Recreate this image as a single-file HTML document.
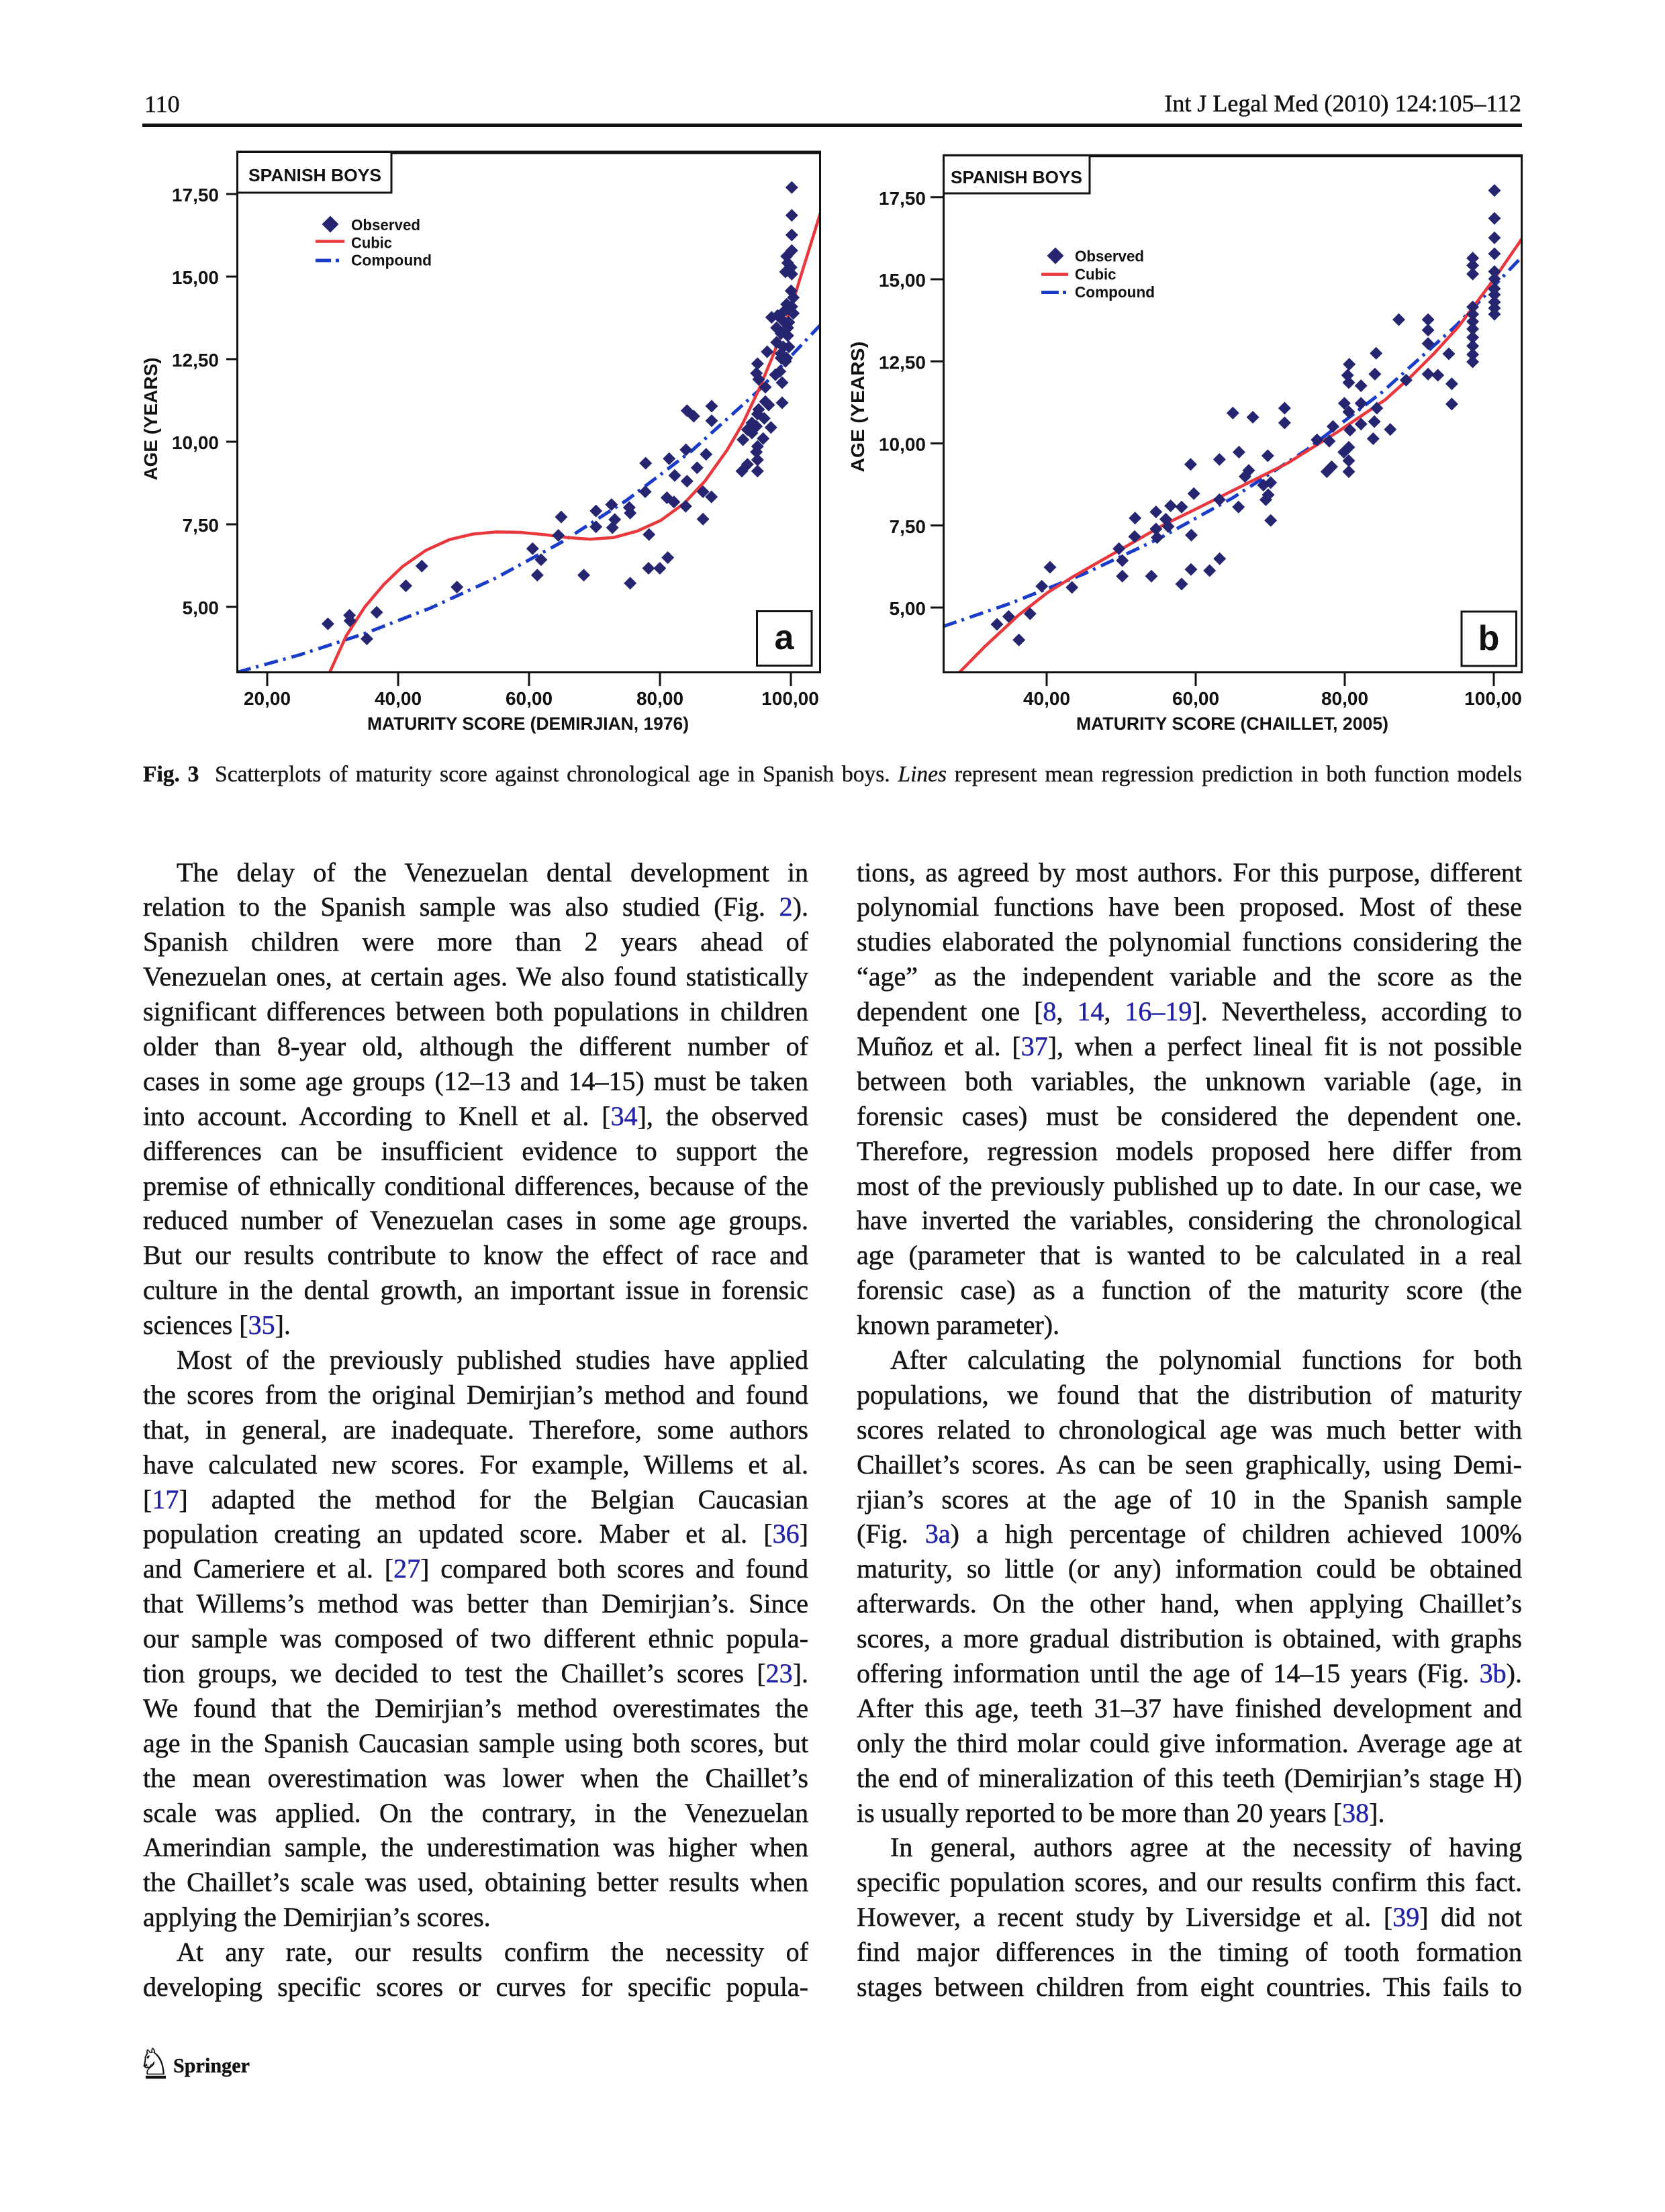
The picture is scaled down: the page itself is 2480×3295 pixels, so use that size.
<!DOCTYPE html>
<html><head><meta charset="utf-8">
<style>
html,body{margin:0;padding:0;background:#fff}
body{width:2480px;height:3295px;position:relative;overflow:hidden}
svg.pg{position:absolute;left:0;top:0}
.col{position:absolute;top:1273.5px;width:991px;font-family:"Liberation Serif","Times New Roman",serif;font-size:40px;line-height:51.9px;color:#151515;-webkit-text-stroke:0.5px #151515}
.col div{height:51.9px;overflow:hidden;text-align:justify;text-align-last:justify}
.col div.i{text-indent:50px}
.col div.l{text-align:left;text-align-last:left}
.c{color:#2424a6;-webkit-text-stroke:0.5px #2424a6}
.cap{position:absolute;left:213px;top:1133.7px;width:2054px;height:40px;overflow:hidden;font-family:"Liberation Serif","Times New Roman",serif;font-size:33.5px;line-height:40px;color:#151515;text-align:justify;text-align-last:justify;-webkit-text-stroke:0.4px #151515}
</style></head>
<body>
<svg class="pg" width="2480" height="3295" viewBox="0 0 2480 3295">
<defs>
<path id="d" d="M0,-9.5L9.5,0L0,9.5L-9.5,0Z" fill="#25266f"/>
<path id="dl" d="M0,-12.5L12.5,0L0,12.5L-12.5,0Z" fill="#25266f"/>
<clipPath id="ca"><rect x="354" y="228" width="867" height="773"/></clipPath>
<clipPath id="cb"><rect x="1406" y="233" width="860" height="768"/></clipPath>
</defs>

<!-- header -->
<text x="215" y="167" font-family="Liberation Serif, serif" font-size="36" fill="#111" stroke="#111" stroke-width="0.5">110</text>
<text x="2266" y="166" text-anchor="end" font-family="Liberation Serif, serif" font-size="36" fill="#111" stroke="#111" stroke-width="0.5">Int J Legal Med (2010) 124:105–112</text>
<rect x="212" y="184" width="2055" height="5" fill="#111"/>

<!-- ===== Chart a ===== -->
<g font-family="Liberation Sans, Arial, sans-serif" font-weight="bold" fill="#111">
<g clip-path="url(#ca)">
<path d="M353.2,1001.4 L446.7,975.4 L543.95,943.5 L641.25,905.7 L738.55,861 L835.85,808 L933.15,745.4 L1030.45,671.4 L1127.75,583.8 L1222,484" fill="none" stroke="#1a3cc8" stroke-width="5" stroke-dasharray="21 8 4 9"/>
<path d="M486,1013 L491.2,1001.3 L515.7,947.1 L543.6,903.8 L571.6,870.7 L599.6,843.9 L634.5,819.7 L669.5,803.8 L704.5,795.5 L739.4,792.4 L774.4,793 L809.4,796.2 L844.3,800.6 L879.3,803.2 L914.3,800.6 L949.2,791.1 L984.2,775.2 L1019.2,749.7 L1050,716.7 L1083.3,670 L1106.7,630 L1130,581 L1150,533 L1166.7,490 L1183.3,442 L1200,388 L1222,317" fill="none" stroke="#e8383d" stroke-width="4.5"/>
<g>
<use href="#d" x="488.4" y="929.3"/><use href="#d" x="520.6" y="916.6"/><use href="#d" x="521.3" y="924.8"/><use href="#d" x="561.1" y="912.1"/><use href="#d" x="546.4" y="951.6"/><use href="#d" x="604.5" y="872.6"/><use href="#d" x="628.3" y="843.3"/><use href="#d" x="680.7" y="874.5"/><use href="#d" x="793.3" y="817.2"/><use href="#d" x="800.3" y="856.7"/><use href="#d" x="805.9" y="833.8"/><use href="#d" x="835.9" y="770.1"/><use href="#d" x="831.7" y="797.5"/><use href="#d" x="869.5" y="856.7"/><use href="#d" x="887.7" y="761.1"/><use href="#d" x="887.7" y="784.7"/><use href="#d" x="910.8" y="751.6"/><use href="#d" x="915.7" y="773.9"/><use href="#d" x="912.2" y="786"/><use href="#d" x="938.7" y="868.8"/><use href="#d" x="937.3" y="756"/><use href="#d" x="938.7" y="764.3"/><use href="#d" x="961.1" y="732.5"/><use href="#d" x="966.7" y="796.2"/><use href="#d" x="966" y="846.5"/><use href="#d" x="982.8" y="846.5"/><use href="#d" x="994.7" y="830.6"/><use href="#d" x="993.3" y="741.4"/><use href="#d" x="1003.8" y="747.8"/><use href="#d" x="1021.3" y="754.1"/><use href="#d" x="1047.1" y="773.2"/><use href="#d" x="1047.1" y="732.5"/><use href="#d" x="1059.7" y="740.1"/>
<use href="#d" x="1179.3" y="279.3"/><use href="#d" x="1179.3" y="320.7"/><use href="#d" x="1179.3" y="350"/><use href="#d" x="1179.3" y="373.3"/><use href="#d" x="1171.7" y="381.7"/><use href="#d" x="1173.3" y="391.7"/><use href="#d" x="1178.3" y="398.3"/><use href="#d" x="1170" y="405"/><use href="#d" x="1179.3" y="408.3"/><use href="#d" x="1178.3" y="433.3"/><use href="#d" x="1181.7" y="443.3"/><use href="#d" x="1171.7" y="453.3"/><use href="#d" x="1179.3" y="456.7"/><use href="#d" x="1168.3" y="463.3"/><use href="#d" x="1181.7" y="466.7"/><use href="#d" x="1149.3" y="472.7"/><use href="#d" x="1158.3" y="470"/><use href="#d" x="1166.7" y="478.3"/><use href="#d" x="1175" y="480"/><use href="#d" x="1156.7" y="488.3"/><use href="#d" x="1173.3" y="488.3"/><use href="#d" x="1163.3" y="496.7"/><use href="#d" x="1173.3" y="500"/><use href="#d" x="1156.7" y="510"/><use href="#d" x="1166.7" y="516.7"/><use href="#d" x="1175" y="516.7"/><use href="#d" x="1142.7" y="524"/><use href="#d" x="1163.3" y="526.7"/><use href="#d" x="1171.7" y="533.3"/><use href="#d" x="1163.3" y="533.3"/><use href="#d" x="1170" y="538.3"/><use href="#d" x="1128.3" y="541.7"/><use href="#d" x="1126.7" y="556"/><use href="#d" x="1161.7" y="553.3"/><use href="#d" x="1155" y="558.3"/><use href="#d" x="1130" y="565"/><use href="#d" x="1165" y="570"/><use href="#d" x="1140" y="576.7"/><use href="#d" x="1165" y="600"/><use href="#d" x="1140" y="598.3"/><use href="#d" x="1145" y="603.3"/><use href="#d" x="1130" y="610"/><use href="#d" x="1128.3" y="616.7"/><use href="#d" x="1138.3" y="623.3"/><use href="#d" x="1120" y="630"/><use href="#d" x="1126.7" y="635"/><use href="#d" x="1148.3" y="636.7"/><use href="#d" x="1113.3" y="640"/><use href="#d" x="1120" y="645"/><use href="#d" x="1136.7" y="653.3"/><use href="#d" x="1106.7" y="655"/><use href="#d" x="1128.3" y="665"/><use href="#d" x="1126.7" y="673.3"/><use href="#d" x="1113.3" y="691.7"/><use href="#d" x="1105" y="701.7"/><use href="#d" x="1128.3" y="685"/><use href="#d" x="1128.3" y="701.7"/><use href="#d" x="1060" y="605"/><use href="#d" x="1023.3" y="611.7"/><use href="#d" x="1033.3" y="620"/><use href="#d" x="1060" y="626.7"/><use href="#d" x="1021.7" y="670"/><use href="#d" x="1051.7" y="676.7"/><use href="#d" x="996.7" y="683.3"/><use href="#d" x="961.7" y="690"/><use href="#d" x="1005" y="708.3"/><use href="#d" x="1038.3" y="696.7"/><use href="#d" x="1023.3" y="716.7"/>
</g>
</g>
<rect x="353.5" y="226.5" width="868" height="775" fill="none" stroke="#111" stroke-width="3"/>
<line x1="352" y1="227" x2="1223" y2="227" stroke="#111" stroke-width="5"/>
<rect x="353.5" y="226.5" width="229.5" height="60.5" fill="#fff" stroke="#111" stroke-width="3"/>
<text x="370" y="270" font-size="26" textLength="198" lengthAdjust="spacingAndGlyphs">SPANISH BOYS</text>
<path d="M337,289H353M337,412H353M337,535H353M337,658H353M337,781H353M337,904H353" stroke="#111" stroke-width="3"/>
<g font-size="28" text-anchor="end">
<text x="326" y="300">17,50</text><text x="326" y="423">15,00</text><text x="326" y="546">12,50</text><text x="326" y="669">10,00</text><text x="326" y="792">7,50</text><text x="326" y="915">5,00</text>
</g>
<path d="M398,1002V1022M593,1002V1022M788,1002V1022M983,1002V1022M1178,1002V1022" stroke="#111" stroke-width="3"/>
<g font-size="28" text-anchor="middle">
<text x="398" y="1050">20,00</text><text x="593" y="1050">40,00</text><text x="788" y="1050">60,00</text><text x="983" y="1050">80,00</text><text x="1177" y="1050">100,00</text>
</g>
<text x="786.5" y="1087" font-size="27" text-anchor="middle" textLength="479" lengthAdjust="spacingAndGlyphs">MATURITY SCORE (DEMIRJIAN, 1976)</text>
<text transform="translate(234,624) rotate(-90)" x="0" y="0" font-size="28" text-anchor="middle" textLength="183" lengthAdjust="spacingAndGlyphs">AGE (YEARS)</text>
<!-- legend a -->
<use href="#dl" x="492" y="334"/>
<line x1="470" y1="359.5" x2="513" y2="359.5" stroke="#e8383d" stroke-width="4.5"/>
<line x1="470" y1="388" x2="493" y2="388" stroke="#1a3cc8" stroke-width="5"/>
<line x1="500" y1="388" x2="505" y2="388" stroke="#1a3cc8" stroke-width="5"/>
<g font-size="23">
<text x="523" y="343" textLength="103" lengthAdjust="spacingAndGlyphs">Observed</text>
<text x="523" y="369.5" textLength="61" lengthAdjust="spacingAndGlyphs">Cubic</text>
<text x="523" y="395.5" textLength="120" lengthAdjust="spacingAndGlyphs">Compound</text>
</g>
<rect x="1127.5" y="910.5" width="81.5" height="81" fill="#fff" stroke="#111" stroke-width="3"/>
<text x="1168" y="967" font-size="52" text-anchor="middle">a</text>
</g>

<!-- ===== Chart b ===== -->
<g font-family="Liberation Sans, Arial, sans-serif" font-weight="bold" fill="#111">
<g clip-path="url(#cb)">
<path d="M1404.7,933.2 L1503.5,899.3 L1614.5,854.9 L1725.5,802.7 L1836.5,741.4 L1947.5,669.2 L2058.5,584.3 L2169.5,484.5 L2268.3,381" fill="none" stroke="#1a3cc8" stroke-width="5" stroke-dasharray="21 8 4 9"/>
<path d="M1420,1010 L1428.3,1002.3 L1466.7,963.3 L1516.7,916.7 L1560,883 L1600,858 L1666.7,820 L1733.3,781.7 L1772.7,762.5 L1845.4,726.2 L1918.1,689.8 L1990.8,644.4 L2063.5,595.3 L2099.9,562.6 L2136.2,526.3 L2172.6,486.3 L2227,413.6 L2267,355.4" fill="none" stroke="#e8383d" stroke-width="4.5"/>
<g>
<use href="#d" x="1690.7" y="771.7"/><use href="#d" x="1690" y="799.3"/><use href="#d" x="1666.7" y="817.3"/><use href="#d" x="1671.7" y="835"/><use href="#d" x="1564" y="845"/><use href="#d" x="1671.7" y="858.3"/><use href="#d" x="1715" y="858.3"/><use href="#d" x="1774" y="848.3"/><use href="#d" x="1801.7" y="850"/><use href="#d" x="1816.7" y="832.3"/><use href="#d" x="1760" y="870"/><use href="#d" x="1551.7" y="873.3"/><use href="#d" x="1596.7" y="875"/><use href="#d" x="1534.3" y="914.3"/><use href="#d" x="1502.3" y="918.3"/><use href="#d" x="1485" y="930"/><use href="#d" x="1517.7" y="953.3"/>
<use href="#d" x="2226" y="283.8"/><use href="#d" x="2226" y="325.2"/><use href="#d" x="2226" y="354.3"/><use href="#d" x="2226" y="378"/><use href="#d" x="2226" y="404.5"/><use href="#d" x="2226" y="415.4"/><use href="#d" x="2226" y="430"/><use href="#d" x="2226" y="439"/><use href="#d" x="2226" y="450"/><use href="#d" x="2226" y="459"/><use href="#d" x="2226" y="468.1"/>
<use href="#d" x="2193.6" y="384.5"/><use href="#d" x="2193.6" y="395.4"/><use href="#d" x="2193.6" y="408.1"/><use href="#d" x="2193.6" y="457.2"/><use href="#d" x="2193.6" y="468.1"/><use href="#d" x="2193.6" y="479"/><use href="#d" x="2193.6" y="490"/><use href="#d" x="2193.6" y="502.6"/><use href="#d" x="2193.6" y="515.4"/><use href="#d" x="2193.6" y="528.1"/><use href="#d" x="2193.6" y="539"/>
<use href="#d" x="2083.5" y="476.1"/><use href="#d" x="2127.1" y="476.1"/><use href="#d" x="2127.1" y="491.7"/><use href="#d" x="2127.1" y="511.7"/><use href="#d" x="2158" y="527"/><use href="#d" x="2127.1" y="557.2"/><use href="#d" x="2141.7" y="559"/><use href="#d" x="2162.4" y="571.7"/><use href="#d" x="2162.4" y="601.9"/>
<use href="#d" x="2049.7" y="526.3"/><use href="#d" x="2047.9" y="557.2"/><use href="#d" x="2009.7" y="542.6"/><use href="#d" x="2007.2" y="559"/><use href="#d" x="2009" y="569.9"/><use href="#d" x="2027.2" y="574.6"/><use href="#d" x="2094.4" y="566.3"/><use href="#d" x="2002.4" y="600.8"/><use href="#d" x="2027.2" y="600.8"/><use href="#d" x="2009" y="613.5"/><use href="#d" x="2050.8" y="608"/><use href="#d" x="2010.8" y="640.8"/><use href="#d" x="2027.2" y="631.7"/><use href="#d" x="2047.1" y="628"/><use href="#d" x="2070.8" y="639.7"/><use href="#d" x="2045.3" y="653.5"/><use href="#d" x="1985.4" y="635.3"/><use href="#d" x="1979.9" y="657.1"/><use href="#d" x="1961.7" y="655.3"/><use href="#d" x="2009" y="666.2"/><use href="#d" x="2001.7" y="673.5"/><use href="#d" x="2009" y="686.2"/><use href="#d" x="1983.5" y="695.3"/><use href="#d" x="1976.3" y="702.6"/><use href="#d" x="2009" y="702.6"/>
<use href="#d" x="1836.3" y="615.3"/><use href="#d" x="1866.1" y="621.5"/><use href="#d" x="1913.4" y="608"/><use href="#d" x="1913.4" y="629.9"/><use href="#d" x="1845.4" y="673.5"/><use href="#d" x="1816.3" y="684.4"/><use href="#d" x="1773.4" y="691.7"/><use href="#d" x="1888.3" y="678.9"/><use href="#d" x="1860" y="700.7"/><use href="#d" x="1854.5" y="709.8"/><use href="#d" x="1881.8" y="722.6"/><use href="#d" x="1892.7" y="718.9"/><use href="#d" x="1778.2" y="735.3"/><use href="#d" x="1816.3" y="744.4"/><use href="#d" x="1889" y="737.1"/><use href="#d" x="1885.4" y="744.4"/><use href="#d" x="1844.7" y="755.3"/><use href="#d" x="1743.6" y="753.5"/><use href="#d" x="1760" y="755.3"/><use href="#d" x="1721.8" y="762.5"/><use href="#d" x="1736.4" y="773.4"/><use href="#d" x="1892.7" y="775.3"/><use href="#d" x="1721.8" y="788"/><use href="#d" x="1740" y="784.3"/><use href="#d" x="1774.5" y="797.1"/><use href="#d" x="1723.6" y="800.7"/>
</g>
</g>
<rect x="1405.5" y="231.5" width="861" height="770" fill="none" stroke="#111" stroke-width="3"/>
<line x1="1404" y1="232" x2="2268" y2="232" stroke="#111" stroke-width="4.5"/>
<rect x="1405.5" y="231.5" width="217.5" height="56.5" fill="#fff" stroke="#111" stroke-width="3"/>
<text x="1416" y="273" font-size="26" textLength="196" lengthAdjust="spacingAndGlyphs">SPANISH BOYS</text>
<path d="M1386,293.75H1405M1386,416H1405M1386,538.25H1405M1386,660.5H1405M1386,782.75H1405M1386,905H1405" stroke="#111" stroke-width="3"/>
<g font-size="28" text-anchor="end">
<text x="1379" y="304.75">17,50</text><text x="1379" y="427">15,00</text><text x="1379" y="549.25">12,50</text><text x="1379" y="671.5">10,00</text><text x="1379" y="793.75">7,50</text><text x="1379" y="916">5,00</text>
</g>
<path d="M1559,1002V1022M1781,1002V1022M2003,1002V1022M2225,1002V1022" stroke="#111" stroke-width="3"/>
<g font-size="28" text-anchor="middle">
<text x="1559" y="1050">40,00</text><text x="1781" y="1050">60,00</text><text x="2003" y="1050">80,00</text><text x="2224" y="1050">100,00</text>
</g>
<text x="1835.5" y="1087" font-size="27" text-anchor="middle" textLength="465" lengthAdjust="spacingAndGlyphs">MATURITY SCORE (CHAILLET, 2005)</text>
<text transform="translate(1287,606) rotate(-90)" x="0" y="0" font-size="28" text-anchor="middle" textLength="195" lengthAdjust="spacingAndGlyphs">AGE  (YEARS)</text>
<!-- legend b -->
<use href="#dl" x="1572" y="381"/>
<line x1="1551" y1="408.6" x2="1591" y2="408.6" stroke="#e8383d" stroke-width="4.5"/>
<line x1="1551" y1="435.5" x2="1577" y2="435.5" stroke="#1a3cc8" stroke-width="5"/>
<line x1="1583" y1="435.5" x2="1588" y2="435.5" stroke="#1a3cc8" stroke-width="5"/>
<g font-size="23">
<text x="1601" y="389.5" textLength="103" lengthAdjust="spacingAndGlyphs">Observed</text>
<text x="1601" y="416.5" textLength="61.5" lengthAdjust="spacingAndGlyphs">Cubic</text>
<text x="1601" y="443" textLength="119" lengthAdjust="spacingAndGlyphs">Compound</text>
</g>
<rect x="2177" y="911" width="81.5" height="81" fill="#fff" stroke="#111" stroke-width="3"/>
<text x="2217.5" y="968" font-size="52" text-anchor="middle">b</text>
</g>

<!-- footer -->
<text x="205" y="3090" font-family="DejaVu Sans, sans-serif" font-size="54" fill="#111" stroke="#111" stroke-width="0.8">♘</text>
<rect x="217" y="3092" width="30" height="4.5" fill="#111"/>
<text x="258" y="3087" font-family="Liberation Serif, serif" font-weight="bold" font-size="31" fill="#111" stroke="#111" stroke-width="0.4" textLength="114" lengthAdjust="spacingAndGlyphs">Springer</text>
</svg>

<div class="cap"><b>Fig. 3</b><span style="display:inline-block;width:12px"></span> Scatterplots of maturity score against chronological age in Spanish boys. <i>Lines</i> represent mean regression prediction in both function models</div>

<div class="col" style="left:213px">
<div class="i">The delay of the Venezuelan dental development in</div>
<div>relation to the Spanish sample was also studied (Fig. <span class="c">2</span>).</div>
<div>Spanish children were more than 2 years ahead of</div>
<div>Venezuelan ones, at certain ages. We also found statistically</div>
<div>significant differences between both populations in children</div>
<div>older than 8-year old, although the different number of</div>
<div>cases in some age groups (12–13 and 14–15) must be taken</div>
<div>into account. According to Knell et al. [<span class="c">34</span>], the observed</div>
<div>differences can be insufficient evidence to support the</div>
<div>premise of ethnically conditional differences, because of the</div>
<div>reduced number of Venezuelan cases in some age groups.</div>
<div>But our results contribute to know the effect of race and</div>
<div>culture in the dental growth, an important issue in forensic</div>
<div class="l">sciences [<span class="c">35</span>].</div>
<div class="i">Most of the previously published studies have applied</div>
<div>the scores from the original Demirjian’s method and found</div>
<div>that, in general, are inadequate. Therefore, some authors</div>
<div>have calculated new scores. For example, Willems et al.</div>
<div>[<span class="c">17</span>] adapted the method for the Belgian Caucasian</div>
<div>population creating an updated score. Maber et al. [<span class="c">36</span>]</div>
<div>and Cameriere et al. [<span class="c">27</span>] compared both scores and found</div>
<div>that Willems’s method was better than Demirjian’s. Since</div>
<div>our sample was composed of two different ethnic popula-</div>
<div>tion groups, we decided to test the Chaillet’s scores [<span class="c">23</span>].</div>
<div>We found that the Demirjian’s method overestimates the</div>
<div>age in the Spanish Caucasian sample using both scores, but</div>
<div>the mean overestimation was lower when the Chaillet’s</div>
<div>scale was applied. On the contrary, in the Venezuelan</div>
<div>Amerindian sample, the underestimation was higher when</div>
<div>the Chaillet’s scale was used, obtaining better results when</div>
<div class="l">applying the Demirjian’s scores.</div>
<div class="i">At any rate, our results confirm the necessity of</div>
<div>developing specific scores or curves for specific popula-</div>
</div>

<div class="col" style="left:1276px">
<div>tions, as agreed by most authors. For this purpose, different</div>
<div>polynomial functions have been proposed. Most of these</div>
<div>studies elaborated the polynomial functions considering the</div>
<div>“age” as the independent variable and the score as the</div>
<div>dependent one [<span class="c">8</span>, <span class="c">14</span>, <span class="c">16–19</span>]. Nevertheless, according to</div>
<div>Muñoz et al. [<span class="c">37</span>], when a perfect lineal fit is not possible</div>
<div>between both variables, the unknown variable (age, in</div>
<div>forensic cases) must be considered the dependent one.</div>
<div>Therefore, regression models proposed here differ from</div>
<div>most of the previously published up to date. In our case, we</div>
<div>have inverted the variables, considering the chronological</div>
<div>age (parameter that is wanted to be calculated in a real</div>
<div>forensic case) as a function of the maturity score (the</div>
<div class="l">known parameter).</div>
<div class="i">After calculating the polynomial functions for both</div>
<div>populations, we found that the distribution of maturity</div>
<div>scores related to chronological age was much better with</div>
<div>Chaillet’s scores. As can be seen graphically, using Demi-</div>
<div>rjian’s scores at the age of 10 in the Spanish sample</div>
<div>(Fig. <span class="c">3a</span>) a high percentage of children achieved 100%</div>
<div>maturity, so little (or any) information could be obtained</div>
<div>afterwards. On the other hand, when applying Chaillet’s</div>
<div>scores, a more gradual distribution is obtained, with graphs</div>
<div>offering information until the age of 14–15 years (Fig. <span class="c">3b</span>).</div>
<div>After this age, teeth 31–37 have finished development and</div>
<div>only the third molar could give information. Average age at</div>
<div>the end of mineralization of this teeth (Demirjian’s stage H)</div>
<div class="l">is usually reported to be more than 20 years [<span class="c">38</span>].</div>
<div class="i">In general, authors agree at the necessity of having</div>
<div>specific population scores, and our results confirm this fact.</div>
<div>However, a recent study by Liversidge et al. [<span class="c">39</span>] did not</div>
<div>find major differences in the timing of tooth formation</div>
<div>stages between children from eight countries. This fails to</div>
</div>
</body></html>
